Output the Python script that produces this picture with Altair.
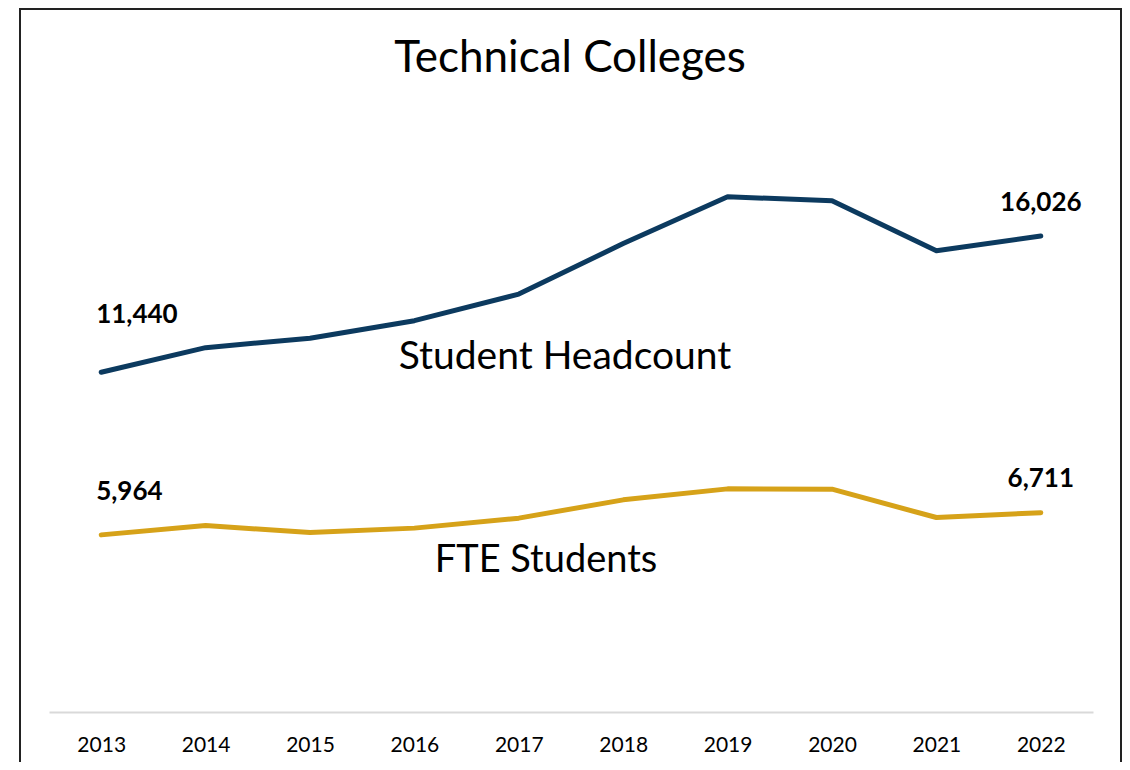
import altair as alt
import pandas as pd

years = ["2013", "2014", "2015", "2016", "2017", "2018", "2019", "2020", "2021", "2022"]
headcount = [11440, 12268, 12584, 13176, 14070, 15773, 17348, 17213, 15531, 16026]
fte = [5964, 6278, 6043, 6191, 6527, 7143, 7513, 7503, 6548, 6711]
series_names = ["Student Headcount", "FTE Students"]
series_colors = ["#0C3A5F", "#D6A219"]
chart_title = ["Technical Colleges"]

rows = []
for y, h, f in zip(years, headcount, fte):
    rows.append({"year": y, "series": series_names[0], "value": h})
    rows.append({"year": y, "series": series_names[1], "value": f})
df = pd.DataFrame(rows)

FONT = "Lato"
W, H = 1044, 594

x_enc = alt.X("year:O", axis=alt.Axis(title=None, labelAngle=0, ticks=False, grid=False,
                                       domainColor="#d9d9d9", domainWidth=2,
                                       labelFont=FONT, labelFontSize=21, labelColor="#000000",
                                       labelPadding=22))
y_enc = alt.Y("value:Q", scale=alt.Scale(domain=[0, 20000], nice=False), axis=None)

base = alt.Chart(df)

lines = base.mark_line(strokeWidth=5, strokeCap="round", strokeJoin="round").encode(
    x=x_enc,
    y=y_enc,
    color=alt.Color("series:N", scale=alt.Scale(domain=series_names, range=series_colors), legend=None),
)

def label(series, year, align, dx, dy):
    return base.transform_filter(
        (alt.datum.series == series) & (alt.datum.year == year)
    ).mark_text(font=FONT, fontSize=26, fontWeight="bold", color="#000000",
                align=align, baseline="alphabetic", dx=dx, dy=dy).encode(
        x="year:O", y=y_enc, text=alt.Text("value:Q", format=",")
    )

labels = (
    label("Student Headcount", "2013", "left", -5, -49)
    + label("Student Headcount", "2022", "center", 0, -25)
    + label("FTE Students", "2013", "left", -5, -35)
    + label("FTE Students", "2022", "center", 0, -26)
)

annot_df = pd.DataFrame({"text": series_names})
annot_head = alt.Chart(annot_df).transform_filter(alt.datum.text == series_names[0]).mark_text(
    font=FONT, fontSize=39, color="#000000", align="center", baseline="alphabetic"
).encode(text="text:N", x=alt.value(516), y=alt.value(251))
annot_fte = alt.Chart(annot_df).transform_filter(alt.datum.text == series_names[1]).mark_text(
    font=FONT, fontSize=38, color="#000000", align="center", baseline="alphabetic"
).encode(text="text:N", x=alt.value(497), y=alt.value(454))

title_df = pd.DataFrame({"text": chart_title})
title_mark = alt.Chart(title_df).mark_text(
    font=FONT, fontSize=44, color="#000000", align="center", baseline="alphabetic"
).encode(text="text:N", x=alt.value(521), y=alt.value(-46))

one = alt.Chart(title_df)
border_left = one.mark_rule(color="#222222", strokeWidth=2).encode(
    x=alt.value(-29), y=alt.value(-109), y2=alt.value(700))
border_right = one.mark_rule(color="#222222", strokeWidth=2).encode(
    x=alt.value(1072), y=alt.value(-109), y2=alt.value(700))
border_top = one.mark_rule(color="#222222", strokeWidth=2).encode(
    x=alt.value(-30), x2=alt.value(1073), y=alt.value(-109))

chart = alt.layer(lines, labels, annot_head, annot_fte, title_mark,
                  border_left, border_right, border_top).properties(
    width=W, height=H,
    background="white",
    autosize=alt.AutoSizeParams(type="none"),
    padding={"left": 41, "top": 110, "right": 29, "bottom": 50},
).configure_view(strokeWidth=0)

chart.save("out.html", embed_options={"renderer": "svg", "actions": False})
